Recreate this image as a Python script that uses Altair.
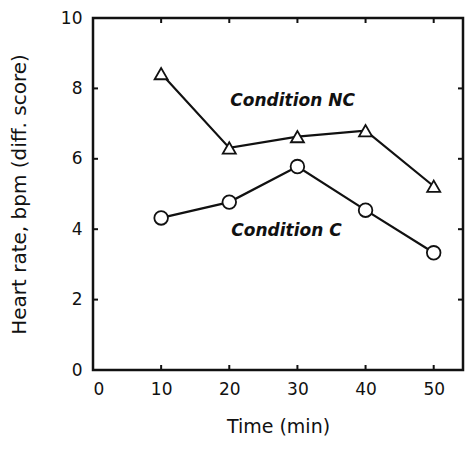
import altair as alt
import pandas as pd

time_min = [10, 20, 30, 40, 50]
cond_nc = [8.42, 6.31, 6.63, 6.80, 5.22]
cond_c = [4.32, 4.77, 5.78, 4.54, 3.33]

label_text = ["Condition NC", "Condition C"]
label_x = [29.3, 28.4]
label_y = [7.65, 3.95]

x_ticks = [0, 10, 20, 30, 40, 50]
y_ticks = [0, 2, 4, 6, 8, 10]
x_inner_ticks = [10, 20, 30, 40, 50]
y_inner_ticks = [2, 4, 6, 8]

rows = []
for t, v in zip(time_min, cond_nc):
    rows.append({"time": t, "hr": v, "series": "NC"})
for t, v in zip(time_min, cond_c):
    rows.append({"time": t, "hr": v, "series": "C"})
df = pd.DataFrame(rows)
labels = pd.DataFrame({"text": label_text, "time": label_x, "hr": label_y})
xt = pd.DataFrame({"time": x_inner_ticks})
yt = pd.DataFrame({"hr": y_inner_ticks})

FONT = "DejaVu Sans"
INK = "#111"
W, H = 370, 352
TICK = 5
xs = alt.Scale(domain=[0, 54.3], nice=False, zero=False)
ys = alt.Scale(domain=[0, 10], nice=False)

lines = alt.Chart(df).mark_line(color=INK, strokeWidth=2.2).encode(
    x=alt.X("time:Q", scale=xs, axis=alt.Axis(
        orient="bottom", ticks=False, tickSize=0, domain=False, grid=False,
        values=x_ticks, labelFontSize=17, labelFont=FONT, labelColor=INK,
        labelPadding=11,
        title="Time (min)", titleFont=FONT, titleFontSize=19,
        titleFontWeight="normal", titleColor=INK, titlePadding=20)),
    y=alt.Y("hr:Q", scale=ys, axis=alt.Axis(
        orient="left", ticks=False, tickSize=0, domain=False, grid=False,
        values=y_ticks, labelFontSize=17, labelFont=FONT, labelColor=INK,
        labelPadding=11,
        title="Heart rate, bpm (diff. score)", titleFont=FONT,
        titleFontSize=20, titleFontWeight="normal", titleColor=INK,
        titlePadding=31)),
    detail="series:N",
)

points = alt.Chart(df).mark_point(
    filled=True, fill="white", stroke=INK, strokeWidth=1.8, opacity=1
).encode(
    x=alt.X("time:Q", scale=xs),
    y=alt.Y("hr:Q", scale=ys),
    shape=alt.Shape("series:N", scale=alt.Scale(
        domain=["C", "NC"], range=["circle", "triangle-up"]), legend=None),
    size=alt.Size("series:N", scale=alt.Scale(
        domain=["C", "NC"], range=[185, 170]), legend=None),
)

texts = alt.Chart(labels).mark_text(
    font=FONT, fontSize=17, fontStyle="italic", fontWeight="bold",
    color=INK, align="center", baseline="middle"
).encode(
    x=alt.X("time:Q", scale=xs),
    y=alt.Y("hr:Q", scale=ys),
    text="text:N",
)

bottom_ticks = alt.Chart(xt).mark_rule(color=INK, strokeWidth=2).encode(
    x=alt.X("time:Q", scale=xs), y=alt.value(H), y2=alt.value(H - TICK))
top_ticks = alt.Chart(xt).mark_rule(color=INK, strokeWidth=2).encode(
    x=alt.X("time:Q", scale=xs), y=alt.value(0), y2=alt.value(TICK))
left_ticks = alt.Chart(yt).mark_rule(color=INK, strokeWidth=2).encode(
    y=alt.Y("hr:Q", scale=ys), x=alt.value(0), x2=alt.value(TICK))
right_ticks = alt.Chart(yt).mark_rule(color=INK, strokeWidth=2).encode(
    y=alt.Y("hr:Q", scale=ys), x=alt.value(W), x2=alt.value(W - TICK))

chart = alt.layer(
    lines, points, texts, bottom_ticks, top_ticks, left_ticks, right_ticks
).properties(
    width=W, height=H,
    autosize=alt.AutoSizeParams(type="none"),
    padding={"left": 85, "top": 10, "right": 2, "bottom": 68},
).configure(background="white").configure_view(stroke=INK, strokeWidth=2.5)

chart.save("out.html", embed_options={"renderer": "svg", "actions": False})
